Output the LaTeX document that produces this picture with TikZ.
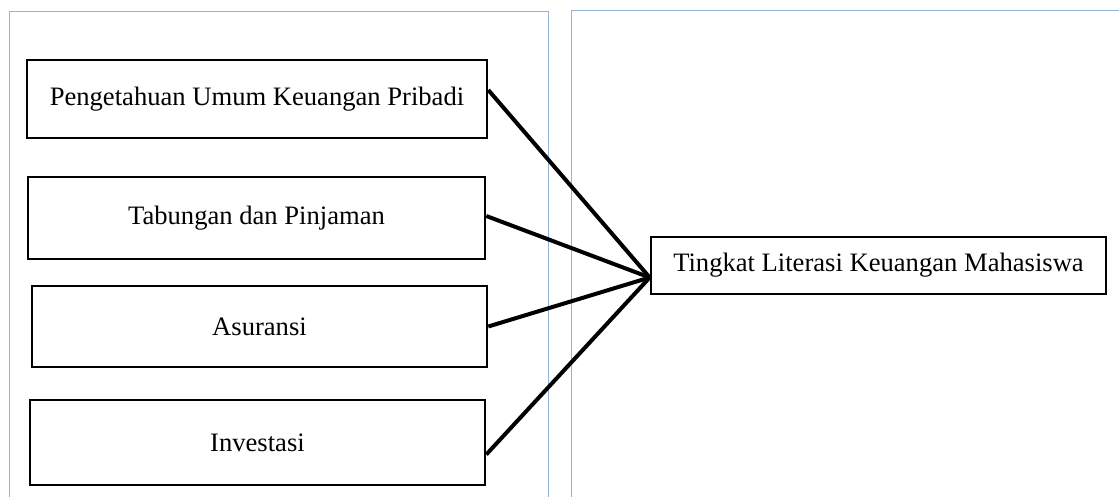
\documentclass[tikz,border=0pt]{standalone}
\usepackage{fontspec}
\setmainfont{Liberation Serif}
\definecolor{guide}{RGB}{149,179,215}
\begin{document}
\begin{tikzpicture}[x=0.5pt,y=-0.5pt,
  box/.style={draw,line width=1.3pt,rectangle,inner sep=0pt,font=\fontsize{13.3}{16}\selectfont},
  link/.style={line width=2pt},
  guideline/.style={draw=guide,line width=0.5pt}]
\useasboundingbox (0,0) rectangle (1119,497);
\draw[guideline] (9,497) -- (9,12) -- (548,12) -- (548,497);
\draw[guideline] (571,497) -- (571,11) -- (1119,11);
\node[box,minimum width=230pt,minimum height=39pt] (b1) at (257,99) {\raisebox{-1.5pt}{Pengetahuan Umum Keuangan Pribadi}};
\node[box,minimum width=228.5pt,minimum height=41pt] (b2) at (256.5,218) {Tabungan dan Pinjaman};
\node[box,minimum width=227.5pt,minimum height=40.5pt] (b3) at (259.5,326.5) {Asuransi};
\node[box,minimum width=227.5pt,minimum height=42.5pt] (b4) at (257.5,442.5) {Investasi};
\node[box,minimum width=227.5pt,minimum height=28.5pt] (rt) at (878.5,265.5) {\raisebox{1pt}{Tingkat Literasi Keuangan Mahasiswa}};
\coordinate (hub) at ([yshift=-6pt]rt.west);
\draw[link] ([yshift=4.5pt]b1.east) -- (hub);
\draw[link] ([yshift=1pt]b2.east) -- (hub);
\draw[link] (b3.east) -- (hub);
\draw[link] ([yshift=-6pt]b4.east) -- (hub);
\end{tikzpicture}
\end{document}
